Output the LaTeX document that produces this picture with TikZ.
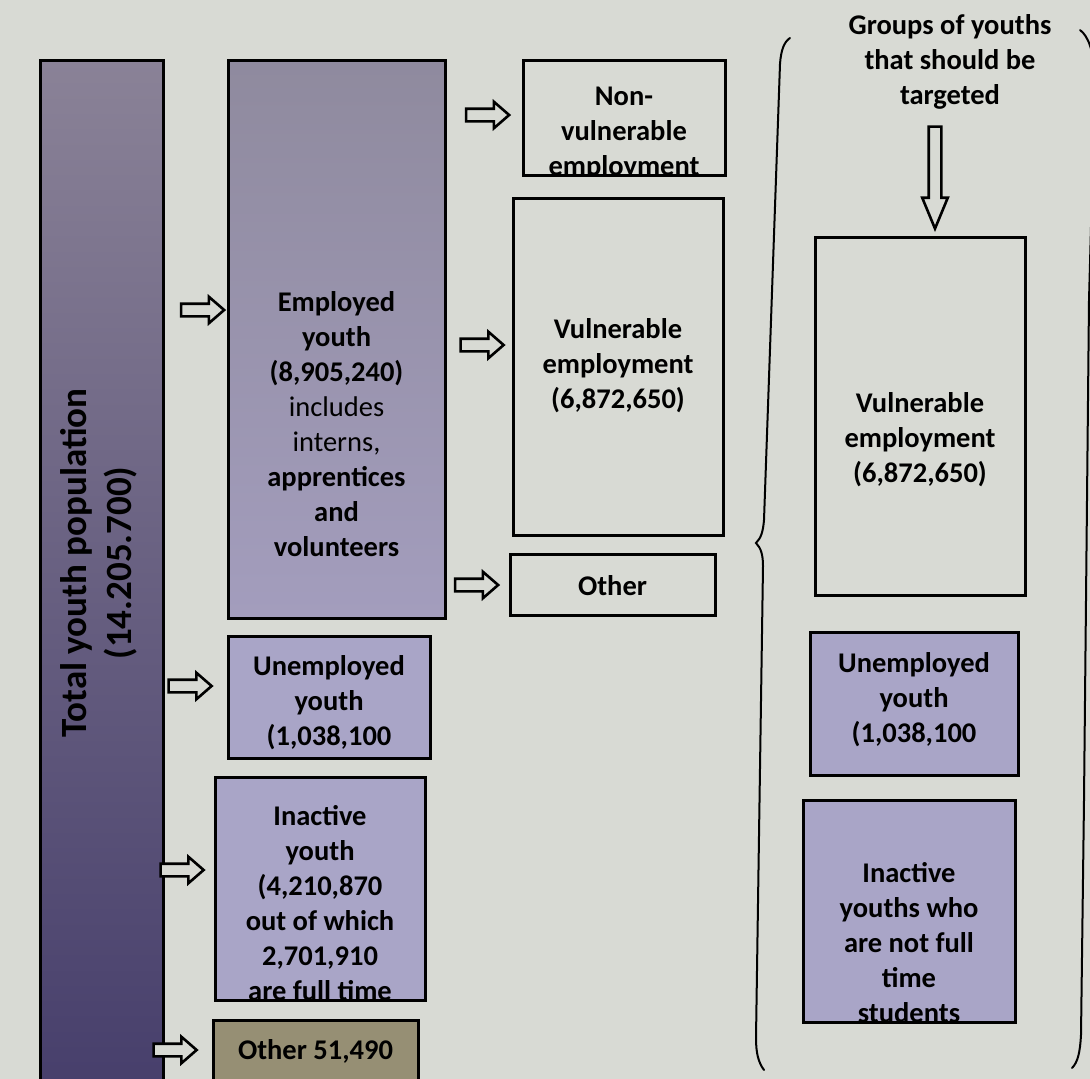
\documentclass[tikz,border=0pt]{standalone}
\usepackage{fontspec}
\setmainfont{Carlito}
\usetikzlibrary{shapes.arrows}
\definecolor{bg}{HTML}{D8DAD4}
\definecolor{bartop}{HTML}{8A8297}
\definecolor{barbot}{HTML}{463E6B}
\definecolor{emptop}{HTML}{8F8A9E}
\definecolor{empbot}{HTML}{A39DBD}
\definecolor{lilac}{HTML}{A9A5C7}
\definecolor{khaki}{HTML}{968F74}
\tikzset{
  box/.style={draw=black, line width=3pt, inner sep=0pt},
  txt/.style={font=\bfseries\fontsize{28.5}{35}\selectfont, align=center, text=black, inner sep=0pt},
  bigtxt/.style={font=\bfseries\fontsize{37}{45}\selectfont, align=center, text=black, inner sep=0pt},
  harrow/.style={shape=single arrow, draw=black, line width=2.6pt, fill=bg, minimum height=43pt,
    inner sep=5pt, single arrow head extend=7pt, single arrow tip angle=82},
  varrow/.style={shape=single arrow, draw=black, line width=2.6pt, fill=bg, minimum height=102pt,
    inner sep=5pt, single arrow head extend=6.5pt, single arrow tip angle=45, rotate=-90},
  bracepath/.style={draw=black, line width=2pt, line cap=round}
}
\begin{document}
\begin{tikzpicture}[x=1pt,y=-1pt]
\path[use as bounding box, fill=bg] (0,0) rectangle (1090,1079);
\clip (0,0) rectangle (1090,1079);

% left bar
\node[box, top color=bartop, bottom color=barbot, minimum width=123pt, minimum height=1040pt] (total) at (101.5,580) {};
\node[bigtxt, rotate=90] (totalT) at (99,563) {Total youth population\\(14.205.700)};

% employed
\node[box, top color=emptop, bottom color=empbot, minimum width=217pt, minimum height=558pt] (emp) at (336.5,339) {};
\node[txt] (empT) at (336.5,424) {Employed\\youth\\(8,905,240)\\{\mdseries includes}\\{\mdseries interns,}\\apprentices\\and\\volunteers};

% unemployed
\node[box, fill=lilac, minimum width=202pt, minimum height=122pt] (unemp) at (329,697) {};
\node[txt] (unempT) at (329,703) {Unemployed\\youth\\(1,038,100};

% inactive
\node[box, fill=lilac, minimum width=210pt, minimum height=223pt] (inact) at (320,888.5) {};
\begin{scope}
\clip ([xshift=3pt,yshift=-3pt]inact.north west) rectangle ([xshift=-3pt,yshift=3pt]inact.south east);
\node[txt] (inactT) at (320,903) {Inactive\\youth\\(4,210,870\\out of which\\2,701,910\\are full time};
\end{scope}

% other bottom
\node[box, fill=khaki, minimum width=205pt, minimum height=90pt] (oth2) at (315.5,1065) {};
\node[txt] (oth2T) at (315.5,1051) {Other 51,490};

% non-vulnerable
\node[box, fill=bg, minimum width=202pt, minimum height=115pt] (nonv) at (624,117.5) {};
\begin{scope}
\clip ([xshift=3pt,yshift=-3pt]nonv.north west) rectangle ([xshift=-3pt,yshift=3pt]nonv.south east);
\node[txt] (nonvT) at (624,133) {Non-\\vulnerable\\employment};
\end{scope}

% vulnerable
\node[box, fill=bg, minimum width=210pt, minimum height=337pt] (vul) at (618,366.5) {};
\node[txt] (vulT) at (618,366) {Vulnerable\\employment\\(6,872,650)};

% other
\node[box, fill=bg, minimum width=205pt, minimum height=61pt] (oth) at (612.5,584.5) {};
\node[txt] (othT) at (612.5,586) {Other};

% arrows
\node[harrow] (aEmp) at (199,310) {};
\node[harrow] (aUnemp) at (186.5,686) {};
\node[harrow] (aInact) at (178.5,870) {};
\node[harrow] (aOth2) at (171.5,1050) {};
\node[harrow] (aNonv) at (484,115) {};
\node[harrow] (aVul) at (478.5,345) {};
\node[harrow] (aOth) at (473,585) {};

% right side
\node[txt] (title) at (950,62) {Groups of youths\\that should be\\targeted};
\node[varrow] (aDown) at (935,170) {};

\node[box, fill=bg, minimum width=210pt, minimum height=358pt] (rvul) at (920,416) {};
\node[txt] (rvulT) at (920,440) {Vulnerable\\employment\\(6,872,650)};

\node[box, fill=lilac, minimum width=208pt, minimum height=143pt] (runemp) at (914,703.5) {};
\node[txt] (runempT) at (914,700) {Unemployed\\youth\\(1,038,100};

\node[box, fill=lilac, minimum width=212pt, minimum height=222pt] (rinact) at (909,911) {};
\begin{scope}
\clip ([xshift=3pt,yshift=-3pt]rinact.north west) rectangle ([xshift=-3pt,yshift=3pt]rinact.south east);
\node[txt] (rinactT) at (909,943) {Inactive\\youths who\\are not full\\time\\students};
\end{scope}

% braces
\draw[bracepath] (790,38) .. controls (784,42) and (781,50) .. (780,64) -- (764,520)
  .. controls (763,532) and (761,538) .. (756,543)
  .. controls (761,548) and (763,555) .. (763,566) -- (756,1038)
  .. controls (756,1052) and (758,1062) .. (764,1070);
\draw[bracepath] (1080,30) .. controls (1088,36) and (1094,50) .. (1095,80) -- (1089,300)
  -- (1084,800) -- (1081,1035) .. controls (1080,1052) and (1078,1062) .. (1072,1068);
\end{tikzpicture}
\end{document}
